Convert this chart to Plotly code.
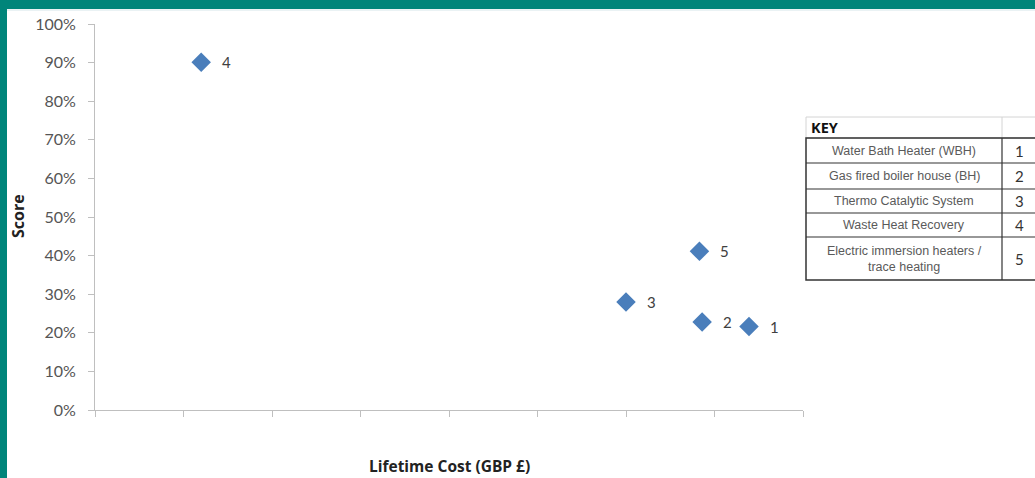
import plotly.graph_objects as go

# ---- data ----
option_ids = ["1", "2", "3", "4", "5"]
lifetime_cost = [7.39, 6.86, 6.0, 1.2, 6.83]      # unlabelled x axis units
score = [0.216, 0.228, 0.280, 0.901, 0.411]
key_labels = [
    "Water Bath Heater (WBH)",
    "Gas fired boiler house (BH)",
    "Thermo Catalytic System",
    "Waste Heat Recovery",
    "Electric immersion heaters /<br>trace heating",
]
x_ticks = list(range(0, 9))
y_ticks = [i / 10 for i in range(0, 11)]

W, H = 1035, 478
ML, MR, MT, MB = 95, 232, 24, 68
PW, PH = W - ML - MR, H - MT - MB


def px(x):
    return (x - ML) / PW


def py(y):
    return (H - MB - y) / PH


fig = go.Figure()
fig.add_trace(go.Scatter(
    x=lifetime_cost, y=score, mode="markers",
    marker=dict(symbol="diamond", size=15, color="#4a7ebb"),
    showlegend=False, hoverinfo="x+y",
))

ann = []
for xi, yi, t in zip(lifetime_cost, score, option_ids):
    ann.append(dict(x=xi, y=yi, xref="x", yref="y", text=t, showarrow=False,
                    xanchor="center", yanchor="middle",
                    xshift=25, yshift=0, font=dict(size=15, color="#404040")))

# axis titles
ann.append(dict(x=px(18), y=py(216), xref="paper", yref="paper", text="<b>Score</b>",
                textangle=-90, showarrow=False, xanchor="center", yanchor="middle",
                font=dict(size=16, color="#222", family="Open Sans, sans-serif")))
ann.append(dict(x=px(449), y=py(466), xref="paper", yref="paper",
                text="<b>Lifetime Cost (GBP £)</b>", showarrow=False,
                xanchor="center", yanchor="middle",
                font=dict(size=15.5, color="#222", family="Open Sans, sans-serif")))

shapes = []
# teal frame
shapes.append(dict(type="rect", xref="paper", yref="paper", x0=px(-5), x1=px(1040),
                   y0=py(9), y1=py(-5), fillcolor="#00857a", line=dict(width=0), layer="above"))
shapes.append(dict(type="rect", xref="paper", yref="paper", x0=px(-5), x1=px(7),
                   y0=py(483), y1=py(-5), fillcolor="#00857a", line=dict(width=0), layer="above"))
shapes.append(dict(type="line", xref="paper", yref="paper", x0=px(7), x1=px(1040),
                   y0=py(10), y1=py(10), line=dict(color="#d6e6ea", width=1)))

# key table
tx0, tx1, tdiv = 806, 1045, 1002
hdr_top = 117
rows = [138, 163, 189, 213, 237, 280]
shapes.append(dict(type="rect", xref="paper", yref="paper", x0=px(tx0), x1=px(tx1),
                   y0=py(rows[0]), y1=py(hdr_top), line=dict(color="#d4d4d4", width=1)))
shapes.append(dict(type="line", xref="paper", yref="paper", x0=px(tdiv), x1=px(tdiv),
                   y0=py(rows[0]), y1=py(hdr_top), line=dict(color="#d4d4d4", width=1)))
shapes.append(dict(type="rect", xref="paper", yref="paper", x0=px(tx0), x1=px(tx1),
                   y0=py(rows[-1]), y1=py(rows[0]), line=dict(color="#333", width=1.5)))
for r in rows[1:-1]:
    shapes.append(dict(type="line", xref="paper", yref="paper", x0=px(tx0), x1=px(tx1),
                       y0=py(r), y1=py(r), line=dict(color="#333", width=1.2)))
shapes.append(dict(type="line", xref="paper", yref="paper", x0=px(tdiv), x1=px(tdiv),
                   y0=py(rows[-1]), y1=py(rows[0]), line=dict(color="#333", width=1.2)))

ann.append(dict(x=px(809), y=py(127.5), xref="paper", yref="paper", text="<b>KEY</b>",
                xanchor="left", yanchor="middle", showarrow=False,
                font=dict(size=14.5, color="#111", family="Open Sans, sans-serif")))
for i, (lab, num) in enumerate(zip(key_labels, option_ids)):
    cy = (rows[i] + rows[i + 1]) / 2
    ann.append(dict(x=px((tx0 + tdiv) / 2), y=py(cy), xref="paper", yref="paper",
                    text=lab, showarrow=False, xanchor="center", yanchor="middle",
                    font=dict(size=12.5, color="#5a5a5a", family="Liberation Sans, sans-serif")))
    ann.append(dict(x=px(1019), y=py(cy), xref="paper", yref="paper", text=num,
                    showarrow=False, xanchor="center", yanchor="middle",
                    font=dict(size=15, color="#333")))

fig.update_layout(
    width=W, height=H,
    margin=dict(l=ML, r=MR, t=MT, b=MB),
    paper_bgcolor="white", plot_bgcolor="white",
    font=dict(family="Lato, Open Sans, sans-serif", size=14, color="#505050"),
    annotations=ann, shapes=shapes,
    xaxis=dict(range=[0, 8], tickvals=x_ticks, showticklabels=False, showgrid=False,
               zeroline=False, showline=True, linecolor="#bfbfbf", linewidth=1,
               ticks="outside", ticklen=6, tickcolor="#bfbfbf"),
    yaxis=dict(range=[0, 1], tickvals=y_ticks, tickformat=".0%", showgrid=False,
               zeroline=False, showline=True, linecolor="#bfbfbf", linewidth=1,
               ticks="outside", ticklen=6, tickcolor="#bfbfbf", ticklabelstandoff=9,
               tickfont=dict(size=16, color="#555555")),
)

fig.write_html("out.html")
